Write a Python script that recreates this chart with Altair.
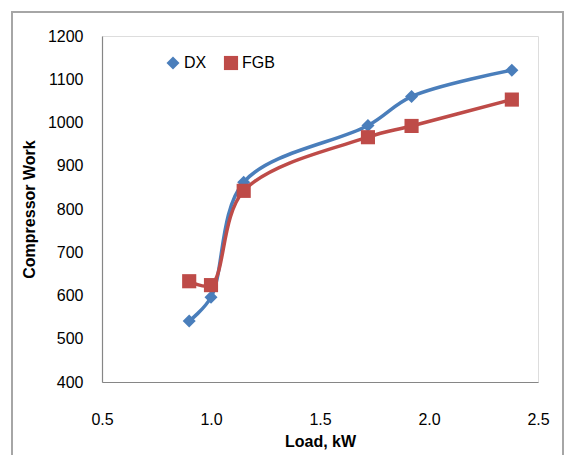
import altair as alt
import pandas as pd

series_names = ["DX", "FGB"]
load_kw = [0.9, 1.0, 1.15, 1.72, 1.92, 2.38]
dx_work = [541, 596, 862, 993, 1060, 1121]
fgb_work = [633, 624, 842, 966, 992, 1053]

colors = ["#4A7EBB", "#BE4B48"]

rows = []
for x, y in zip(load_kw, dx_work):
    rows.append({"load": x, "work": y, "series": "DX"})
for x, y in zip(load_kw, fgb_work):
    rows.append({"load": x, "work": y, "series": "FGB"})
df = pd.DataFrame(rows)
df["marker"] = df["series"]

FONT = "Liberation Sans"

xenc = alt.X("load:Q", scale=alt.Scale(domain=[0.5, 2.5], nice=False),
             axis=alt.Axis(values=[0.5, 1.0, 1.5, 2.0, 2.5], format=".1f",
                           title="Load, kW", grid=False, ticks=False,
                           domainColor="#868686", domainWidth=1.2,
                           labelPadding=29, labelFontSize=16, labelFont=FONT,
                           labelColor="#000000", titleFontSize=16, titleFont=FONT,
                           titleFontWeight="bold", titlePadding=6,
                           titleColor="#000000", labelFlush=False))
yenc = alt.Y("work:Q", scale=alt.Scale(domain=[400, 1200], nice=False),
             axis=alt.Axis(values=list(range(400, 1201, 100)), format="d",
                           title="Compressor Work",
                           grid=False, ticks=False, domainColor="#868686",
                           domainWidth=1.2, labelPadding=19, labelFontSize=16,
                           labelFont=FONT, labelColor="#000000", titleFontSize=16,
                           titleFont=FONT, titleFontWeight="bold", titlePadding=10,
                           titleColor="#000000", labelFlush=False))

color_scale = alt.Scale(domain=series_names, range=colors)

bar = "M-1,-0.09L1,-0.09L1,0.09L-1,0.09Z"
dx_path = bar + "M0,-0.3L0.28,0L0,0.3L-0.28,0Z"
fgb_path = bar + "M-0.3,-0.3L0.3,-0.3L0.3,0.3L-0.3,0.3Z"

shape_expr = "datum.value == 'DX' ? '" + dx_path + "' : '" + fgb_path + "'"
col_expr = "datum.value == 'DX' ? '" + colors[0] + "' : '" + colors[1] + "'"

legend = alt.Legend(
    title=None, orient="none", legendX=63, legendY=19,
    direction="horizontal", symbolSize=1600,
    symbolStrokeWidth=0, labelFontSize=16, labelFont=FONT,
    labelColor="#000000", labelOffset=3, columnPadding=16,
    padding=0, symbolOpacity=1,
    symbolType=alt.ExprRef(expr=shape_expr),
    symbolFillColor=alt.ExprRef(expr=col_expr))

lines = alt.Chart(df).mark_line(interpolate="catmull-rom", strokeWidth=3.5).encode(
    x=xenc, y=yenc,
    color=alt.Color("series:N", scale=color_scale, legend=legend),
    order="load:Q",
)

points = alt.Chart(df).mark_point(filled=True, opacity=1).encode(
    x=xenc, y=yenc,
    fill=alt.Fill("marker:N", scale=color_scale, legend=None),
    shape=alt.Shape("marker:N", scale=alt.Scale(domain=series_names, range=["diamond", "square"]), legend=None),
    size=alt.Size("marker:N", scale=alt.Scale(domain=series_names, range=[170, 200]), legend=None),
)

frame = alt.Chart(df).mark_rect(filled=False, stroke="#a6a6a6", strokeWidth=1.5).encode(
    x=alt.value(-90), x2=alt.value(461), y=alt.value(-24), y2=alt.value(430)
)

chart = alt.layer(frame, lines, points).properties(
    width=436, height=346,
    autosize=alt.AutoSizeParams(type="none"),
    padding={"left": 102, "top": 36, "right": 28, "bottom": 73},
).configure_view(stroke=None).configure(background="#ffffff")

chart.save("out.html", embed_options={"renderer": "svg", "actions": False})
